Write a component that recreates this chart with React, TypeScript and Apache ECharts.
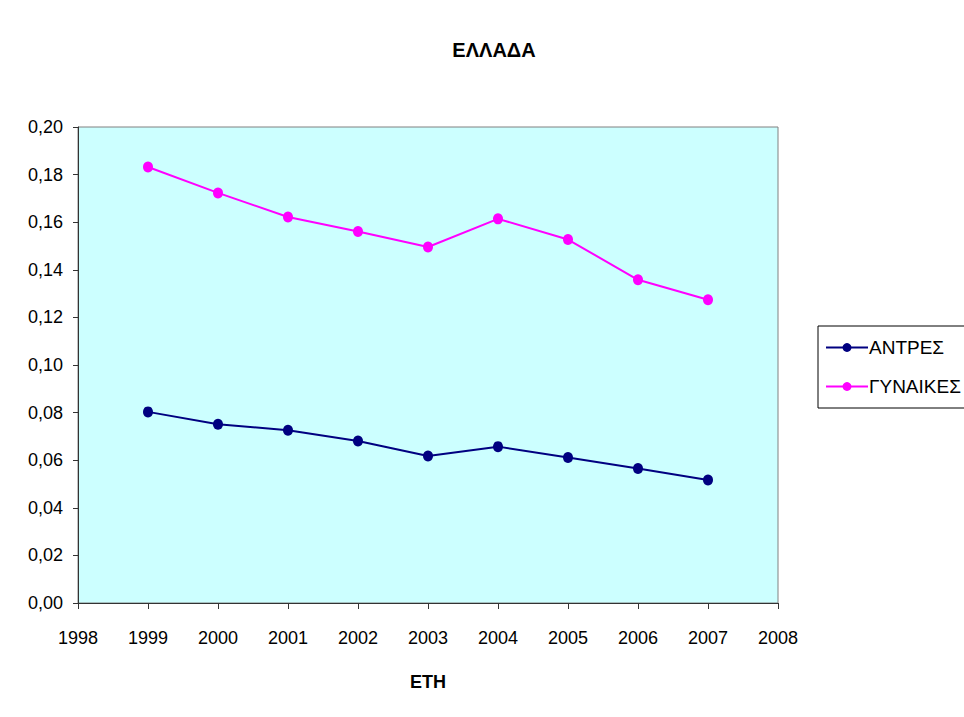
import React, { useEffect, useRef } from "react";
import * as echarts from "echarts";

const years = [1999, 2000, 2001, 2002, 2003, 2004, 2005, 2006, 2007];
const antres = [0.0803, 0.0751, 0.0726, 0.0681, 0.0618, 0.0657, 0.0611, 0.0565, 0.0517];
const gynaikes = [0.1832, 0.1723, 0.1622, 0.1561, 0.1496, 0.1614, 0.1527, 0.1358, 0.1274];
const seriesNames = ["ΑΝΤΡΕΣ", "ΓΥΝΑΙΚΕΣ"];
const titleText = "ΕΛΛΑΔΑ";
const xAxisName = "ΕΤΗ";

const FONT = "'Liberation Sans', Arial, sans-serif";

export default function App() {
  const ref = useRef<HTMLDivElement>(null);
  useEffect(() => {
    document.body.style.margin = "0";
    if (!ref.current) return;
    const chart = echarts.init(ref.current, null, { renderer: "svg" });
    chart.setOption({
      animation: false,
      backgroundColor: "#ffffff",
      textStyle: { fontFamily: FONT },
      graphic: [
        {
          type: "text",
          x: 494,
          y: 50,
          style: {
            text: titleText,
            font: `bold 20px ${FONT}`,
            fill: "#000",
            align: "center",
            verticalAlign: "middle",
          },
        },
      ],
      grid: {
        left: 78,
        top: 127,
        width: 700,
        height: 476,
        show: true,
        backgroundColor: "#CCFFFF",
        borderColor: "#808080",
        borderWidth: 1,
      },
      legend: {
        orient: "vertical",
        left: 818,
        top: 326,
        padding: [12, 60, 12, 7],
        itemWidth: 42,
        itemHeight: 11,
        itemGap: 20,
        borderColor: "#000",
        borderWidth: 1,
        backgroundColor: "#fff",
        borderRadius: 0,
        textStyle: { fontSize: 19, fontFamily: FONT, color: "#000", padding: [0, 0, 0, -4] },
        data: seriesNames,
      },
      xAxis: {
        type: "value",
        min: 1998,
        max: 2008,
        interval: 1,
        name: xAxisName,
        nameLocation: "middle",
        nameGap: 70,
        nameTextStyle: { fontSize: 18, fontWeight: "bold", color: "#000", fontFamily: FONT },
        axisLine: { show: true, lineStyle: { color: "#333", width: 1 } },
        axisTick: { show: true, length: 6, lineStyle: { color: "#333" } },
        axisLabel: {
          fontSize: 18,
          color: "#000",
          margin: 26,
          fontFamily: FONT,
          formatter: (v: number) => String(v),
        },
        splitLine: { show: false },
      },
      yAxis: {
        type: "value",
        min: 0,
        max: 0.2,
        interval: 0.02,
        axisLine: { show: true, lineStyle: { color: "#333", width: 1 } },
        axisTick: { show: true, length: 5, lineStyle: { color: "#333" } },
        axisLabel: {
          fontSize: 18,
          color: "#000",
          margin: 15,
          fontFamily: FONT,
          formatter: (v: number) => v.toFixed(2).replace(".", ","),
        },
        splitLine: { show: false },
      },
      series: [
        {
          name: seriesNames[0],
          type: "line",
          data: years.map((y, i) => [y, antres[i]]),
          color: "#000080",
          symbol: "circle",
          symbolSize: [10, 11],
          lineStyle: { width: 2, color: "#000080" },
          itemStyle: { color: "#000080" },
        },
        {
          name: seriesNames[1],
          type: "line",
          data: years.map((y, i) => [y, gynaikes[i]]),
          color: "#FF00FF",
          symbol: "circle",
          symbolSize: [10, 11],
          lineStyle: { width: 2, color: "#FF00FF" },
          itemStyle: { color: "#FF00FF" },
        },
      ],
    });
    return () => chart.dispose();
  }, []);
  return <div ref={ref} style={{ width: 964, height: 717 }} />;
}
